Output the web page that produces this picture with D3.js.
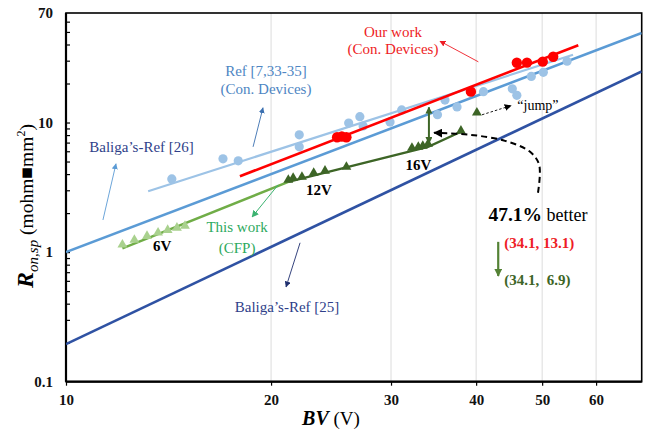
<!DOCTYPE html>
<html>
<head>
<meta charset="utf-8">
<script src="https://cdn.jsdelivr.net/npm/d3@7"></script>
<style>
  body { margin: 0; background: #fff; }
  svg { display: block; }
  svg text { font-family: "Liberation Serif", "DejaVu Serif", "Times New Roman", Times, serif !important; }
</style>
</head>
<body>
<div id="chart"></div>
<script>
// ---- data (BV in V, Ron,sp in mohm*mm2) ----
const refPoints = [[14.3, 3.67], [17.0, 5.25], [17.9, 5.06], [22.0, 8.03], [22.0, 6.49],
  [26.0, 9.9], [27.0, 11.1], [27.3, 9.4], [29.9, 10.1], [31.1, 12.5], [35.1, 11.5],
  [36.0, 14.9], [37.5, 13.2], [41.0, 17.3], [45.2, 18.2], [45.9, 16.2], [48.2, 22.7],
  [50.2, 24.4], [54.4, 29.7]];
const ourPoints = [[25.0, 7.7], [25.4, 7.8], [25.8, 7.7], [39.3, 17.3],
  [45.9, 28.9], [47.5, 29.0], [50.1, 29.5], [51.9, 32.2]];
const cfp6V = [[12.1, 1.14], [12.6, 1.24], [13.15, 1.33], [13.65, 1.41], [14.1, 1.48], [14.55, 1.54], [14.95, 1.59]];
const cfp12V = [[21.2, 3.61], [21.55, 3.74], [22.2, 3.81], [23.1, 4.09], [24.0, 4.24], [25.8, 4.55]];
const cfp16V = [[32.2, 6.37], [32.9, 6.49], [33.4, 6.6], [34.0, 6.84], [38.0, 8.63]];
const jumpPoint = [[40.1, 11.9]];

const baliga25Line = [[10, 0.195], [70, 24.8]];
const baliga26Line = [[10, 1.0], [70, 49]];
const refFitLine = [[13.2, 2.95], [55.5, 33.3]];
const ourFitLine = [[18.0, 3.85], [56.5, 39.5]];
const cfpLightLine = [[12.1, 1.07], [21.2, 3.48]];
const cfpDarkLine = [[21.2, 3.48], [34.0, 6.49], [38.0, 8.5]];

const xTicks = [10, 20, 30, 40, 50, 60];
const xGrid = [20, 30, 40, 50, 60];
const yTicks = [0.1, 1, 10, 70];
const yMinor = [0.2, 0.3, 0.4, 0.5, 0.6, 0.7, 0.8, 0.9, 1, 2, 3, 4, 5, 6, 7, 8, 9, 10, 20, 30, 40, 50, 60];

// comparison at BV = 34.1 V
const compareBV = 34.1;
const compareOurs = 13.1;
const compareCFP = 6.9;
const betterPct = "47.1%";

// ---- layout ----
const width = 651, height = 433;
const margin = { top: 13, right: 9.3, bottom: 51.3, left: 66 };
const serif = "'Liberation Serif', 'DejaVu Serif', 'Times New Roman', serif";

const svg = d3.select("#chart").append("svg")
  .attr("width", width)
  .attr("height", height)
  .style("font-family", serif);

const x = d3.scaleLog().domain([10, 70]).range([margin.left, width - margin.right]);
const y = d3.scaleLog().domain([0.1, 70]).range([height - margin.bottom, margin.top]);

const line = d3.line().x(d => x(d[0])).y(d => y(d[1]));

// arrow heads
const defs = svg.append("defs");
function marker(id, color, w, h) {
  defs.append("marker")
    .attr("id", id)
    .attr("viewBox", "0 0 10 10")
    .attr("refX", 9).attr("refY", 5)
    .attr("markerUnits", "userSpaceOnUse")
    .attr("markerWidth", w).attr("markerHeight", h)
    .attr("orient", "auto-start-reverse")
    .append("path")
    .attr("d", "M0,0 L10,5 L0,10 z")
    .attr("fill", color);
}
marker("a-red", "#ee1c25", 6, 6);
marker("a-ref", "#3a6fb0", 6, 6);
marker("a-b26", "#5b9bd5", 6, 6);
marker("a-cfp", "#3cb371", 7, 7);
marker("a-b25", "#1f2f6f", 6, 6);
marker("a-black", "#000", 7, 7);
marker("a-black-big", "#000", 9, 9);
marker("a-dg", "#3d6526", 7, 7);
marker("a-g", "#548235", 8, 8);

// vertical grid
svg.append("g")
  .selectAll("line")
  .data(xGrid)
  .enter()
  .append("line")
  .attr("x1", d => x(d)).attr("x2", d => x(d))
  .attr("y1", y(0.1)).attr("y2", y(70))
  .attr("stroke", "#dcdcdc")
  .attr("stroke-width", 1);

// axes
const xAxis = svg.append("g")
  .attr("transform", `translate(0,${y(0.1)})`)
  .call(d3.axisBottom(x).tickValues(xTicks).tickFormat(d3.format("d")).tickSizeInner(4).tickSizeOuter(0).tickPadding(9));
xAxis.attr("font-family", null);
xAxis.select(".domain").remove();
xAxis.selectAll(".tick line").attr("stroke", "#000").attr("stroke-width", 1.2);
xAxis.selectAll(".tick text")
  .style("font-family", serif)
  .attr("font-size", 15).attr("font-weight", "bold").attr("fill", "#111");

const yMinorAxis = svg.append("g")
  .attr("transform", `translate(${x(10)},0)`)
  .call(d3.axisLeft(y).tickValues(yMinor).tickFormat("").tickSizeInner(-4).tickSizeOuter(0));
yMinorAxis.select(".domain").remove();
yMinorAxis.selectAll(".tick line").attr("stroke", "#000").attr("stroke-width", 1.2);

const yAxis = svg.append("g")
  .attr("transform", `translate(${x(10)},0)`)
  .call(d3.axisLeft(y).tickValues(yTicks).tickFormat(d => d).tickSize(0).tickPadding(13));
yAxis.attr("font-family", null);
yAxis.select(".domain").remove();
yAxis.selectAll(".tick text")
  .style("font-family", serif)
  .attr("font-size", 15).attr("font-weight", "bold").attr("fill", "#111");

// frame
svg.append("rect")
  .attr("x", x(10)).attr("y", y(70))
  .attr("width", x(70) - x(10)).attr("height", y(0.1) - y(70))
  .attr("fill", "none").attr("stroke", "#000").attr("stroke-width", 1.6);
svg.append("line")
  .attr("x1", x(10)).attr("x2", x(10)).attr("y1", y(70)).attr("y2", y(0.1))
  .attr("stroke", "#000").attr("stroke-width", 2.2);
svg.append("line")
  .attr("x1", x(10)).attr("x2", x(70)).attr("y1", y(0.1)).attr("y2", y(0.1))
  .attr("stroke", "#000").attr("stroke-width", 2.2);

// clip to plot area
defs.append("clipPath").attr("id", "plot")
  .append("rect")
  .attr("x", x(10)).attr("y", y(70))
  .attr("width", x(70) - x(10)).attr("height", y(0.1) - y(70));
const plot = svg.append("g").attr("clip-path", "url(#plot)");

// lines
plot.append("path").datum(baliga25Line).attr("d", line)
  .attr("fill", "none").attr("stroke", "#2f52a3").attr("stroke-width", 2.6);
plot.append("path").datum(baliga26Line).attr("d", line)
  .attr("fill", "none").attr("stroke", "#5b9bd5").attr("stroke-width", 2.6);

// reference points + fit
plot.append("g")
  .selectAll("circle")
  .data(refPoints)
  .enter()
  .append("circle")
  .attr("cx", d => x(d[0])).attr("cy", d => y(d[1]))
  .attr("r", 4.6)
  .attr("fill", "#9dc3e6");
plot.append("path").datum(refFitLine).attr("d", line)
  .attr("fill", "none").attr("stroke", "#9dc3e6").attr("stroke-width", 2.2);

// our work
plot.append("path").datum(ourFitLine).attr("d", line)
  .attr("fill", "none").attr("stroke", "#ff0000").attr("stroke-width", 2.6);
plot.append("g")
  .selectAll("circle")
  .data(ourPoints)
  .enter()
  .append("circle")
  .attr("cx", d => x(d[0])).attr("cy", d => y(d[1]))
  .attr("r", 5.2)
  .attr("fill", "#ff0000");

// this work (CFP)
plot.append("path").datum(cfpLightLine).attr("d", line)
  .attr("fill", "none").attr("stroke", "#70ad47").attr("stroke-width", 2.4);
plot.append("path").datum(cfpDarkLine).attr("d", line)
  .attr("fill", "none").attr("stroke", "#3d6526").attr("stroke-width", 2.2);

const tri = d3.symbol().type(d3.symbolTriangle).size(42);
plot.append("g")
  .selectAll("path")
  .data(cfp6V)
  .enter()
  .append("path")
  .attr("d", tri)
  .attr("transform", d => `translate(${x(d[0])},${y(d[1])})`)
  .attr("fill", "#a9d18e");
plot.append("g")
  .selectAll("path")
  .data(cfp12V.concat(cfp16V, jumpPoint))
  .enter()
  .append("path")
  .attr("d", tri)
  .attr("transform", d => `translate(${x(d[0])},${y(d[1])})`)
  .attr("fill", "#3d6526");

// ---- annotations (anchored in data units) ----
function arrow(from, to, color, id, w, dash) {
  const p = svg.append("line")
    .attr("x1", x(from[0])).attr("y1", y(from[1]))
    .attr("x2", x(to[0])).attr("y2", y(to[1]))
    .attr("stroke", color).attr("stroke-width", w)
    .attr("marker-end", `url(#${id})`);
  if (dash) p.attr("stroke-dasharray", dash);
  return p;
}
arrow([40.3, 29.4], [35.4, 42.4], "#ee1c25", "a-red", 0.9);
arrow([18.82, 6.49], [19.46, 13.0], "#3a6fb0", "a-ref", 0.9);
arrow([11.33, 1.77], [11.84, 4.8], "#5b9bd5", "a-b26", 0.9);
arrow([20.48, 3.3], [18.76, 1.87], "#3cb371", "a-cfp", 1);
arrow([22.06, 1.18], [21.04, 0.539], "#1f2f6f", "a-b25", 0.9);
arrow([40.8, 11.47], [45.0, 13.5], "#000", "a-black", 0.9, "2.5,2");
arrow([compareBV, compareOurs], [compareBV, compareCFP], "#3d6526", "a-dg", 2)
  .attr("marker-start", "url(#a-dg)");
arrow([43.1, 1.2], [43.1, 0.655], "#548235", "a-g", 2.2);

// dashed "better" curve
const curve = d3.line().x(d => x(d[0])).y(d => y(d[1])).curve(d3.curveCatmullRom);
svg.append("path")
  .datum([[49.3, 2.87], [49.5, 4.71], [48.0, 5.94], [44.1, 7.22], [39.2, 8.04], [34.7, 8.32]])
  .attr("d", curve)
  .attr("fill", "none").attr("stroke", "#000").attr("stroke-width", 2)
  .attr("stroke-dasharray", "6,4")
  .attr("marker-end", "url(#a-black-big)");

function label(t, bv, r, opts) {
  return svg.append("text")
    .attr("x", x(bv)).attr("y", y(r))
    .attr("text-anchor", opts.anchor || "middle")
    .attr("font-size", opts.size || 15)
    .attr("font-weight", opts.bold ? "bold" : "normal")
    .attr("fill", opts.color || "#000")
    .style("font-family", serif)
    .style("white-space", "pre")
    .text(t);
}
label("Our work", 30.2, 45.9, { color: "#ee1c25" });
label("(Con. Devices)", 30.2, 33.9, { color: "#ee1c25" });
label("Ref [7,33-35]", 19.66, 22.9, { color: "#4e86c3" });
label("(Con. Devices)", 19.66, 16.65, { color: "#4e86c3" });
label("Baliga\u2019s-Ref [26]", 12.91, 5.94, { color: "#2f3f8a" });
label("This work", 17.83, 1.43, { color: "#2eaa5e" });
label("(CFP)", 17.83, 0.986, { color: "#2eaa5e" });
label("Baliga\u2019s-Ref [25]", 21.11, 0.345, { color: "#2f3f8a" });
label("6V", 13.84, 1.02, { bold: true, size: 15 });
label("12V", 23.52, 2.77, { bold: true, size: 15 });
label("16V", 32.9, 4.31, { bold: true, size: 15 });
label("\u201cjump\u201d", 49.3, 12.5, { size: 14 });
label(`(${compareBV}, ${compareOurs})`, 44.0, 1.08, { anchor: "start", bold: true, color: "#ee1c25" });
label(`(${compareBV},  ${compareCFP})`, 44.0, 0.558, { anchor: "start", bold: true, color: "#3d6526" });

const better = svg.append("text")
  .attr("x", x(41.7)).attr("y", y(1.74))
  .style("font-family", serif)
  .attr("fill", "#000");
better.append("tspan").attr("font-size", 19.5).attr("font-weight", "bold").text(betterPct);
better.append("tspan").attr("font-size", 18).text(" better");

// axis titles
const xTitle = svg.append("text")
  .attr("x", 331).attr("y", 425)
  .attr("text-anchor", "middle")
  .style("font-family", serif)
  .attr("fill", "#000");
xTitle.append("tspan").attr("font-size", 20).attr("font-weight", "bold").attr("font-style", "italic").text("BV");
xTitle.append("tspan").attr("font-size", 19).text(" (V)");

const yTitle = svg.append("text")
  .attr("transform", "translate(33,206) rotate(-90)")
  .attr("text-anchor", "middle")
  .style("font-family", serif)
  .attr("fill", "#000");
yTitle.append("tspan").attr("font-size", 24).attr("font-weight", "bold").attr("font-style", "italic").text("R");
yTitle.append("tspan").attr("font-size", 15).attr("font-style", "italic").attr("dy", 5).text("on,sp");
yTitle.append("tspan").attr("font-size", 19.5).attr("dy", -5).text("  (mohm\u25a0mm");
yTitle.append("tspan").attr("font-size", 12).attr("dy", -8).text("2");
yTitle.append("tspan").attr("font-size", 19.5).attr("dy", 8).text(")");
</script>
</body>
</html>
